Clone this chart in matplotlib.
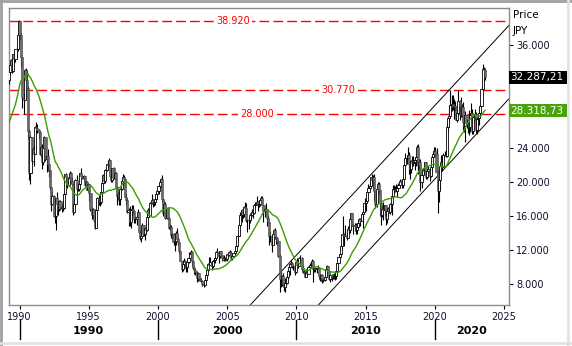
import numpy as np
import matplotlib
matplotlib.use("Agg")
import matplotlib.pyplot as plt
import matplotlib.transforms as mtrans
from matplotlib.patches import Rectangle
import pandas as pd

# ---------------- data (monthly, Nikkei 225, JPY) ----------------
# closes before the first candle (1987-1988), used for the moving average
pre_closes = [20048, 20767, 21567, 23275, 25130, 24176, 24489, 26030, 26010, 21910, 22687, 21564,
              23720, 25450, 26260, 27430, 27420, 27770, 28000, 27370, 27920, 28300, 29580, 30160]

start_year = 1989
closes = [
    31581, 31986, 32839, 33713, 34267, 32949, 34954, 34431, 35637, 35549, 37269, 38916,  # 1989
    37189, 34592, 29980, 29585, 33131, 31940, 31036, 25978, 20984, 25194, 22455, 23849,  # 1990
    23293, 26409, 26292, 26111, 25790, 23291, 24120, 22336, 23916, 25222, 22688, 22984,  # 1991
    22023, 21339, 19346, 17391, 18348, 15951, 15910, 18061, 17399, 16767, 17684, 16925,  # 1992
    17024, 16953, 18591, 20919, 20552, 19591, 20380, 21028, 20106, 19703, 16408, 17417,  # 1993
    20229, 19112, 19112, 19725, 20974, 20644, 20449, 20629, 19564, 19990, 19076, 19723,  # 1994
    18650, 16810, 16140, 16807, 15437, 14517, 16678, 18117, 17913, 17655, 18744, 19868,  # 1995
    20813, 20125, 21407, 22041, 21956, 22531, 20693, 20167, 21556, 20467, 21020, 19361,  # 1996
    18330, 18557, 18003, 19151, 20069, 20605, 20331, 18229, 17888, 16459, 16633, 15259,  # 1997
    16628, 16832, 16527, 15641, 15671, 15830, 16379, 14108, 13406, 13564, 14883, 13842,  # 1998
    14499, 14368, 15837, 16701, 16112, 17530, 17862, 17437, 17605, 17943, 18558, 18934,  # 1999
    19540, 19960, 20337, 17973, 16332, 17411, 15727, 16861, 15747, 14539, 14649, 13785,  # 2000
    13843, 12883, 12999, 13934, 13262, 12969, 11860, 10713, 9775, 10367, 10697, 10543,   # 2001
    9997, 10588, 11025, 11493, 11764, 10622, 9878, 9620, 9383, 8640, 9216, 8579,         # 2002
    8340, 8363, 7973, 7831, 8425, 9083, 9563, 10344, 10219, 10560, 10101, 10677,         # 2003
    10784, 11042, 11715, 11762, 11237, 11859, 11326, 11082, 10824, 10771, 10899, 11489,  # 2004
    11388, 11741, 11668, 11009, 11277, 11584, 11900, 12414, 13574, 13607, 14872, 16111,  # 2005
    16650, 16206, 17060, 16906, 15467, 15505, 15457, 16141, 16128, 16399, 16274, 17226,  # 2006
    17383, 17604, 17288, 17400, 17876, 18138, 17249, 16570, 16786, 16738, 15681, 15307,  # 2007
    13592, 13603, 12526, 13850, 14339, 13481, 13377, 13073, 11260, 8577, 8512, 8860,     # 2008
    7994, 7568, 8110, 8828, 9523, 9958, 10357, 10493, 10133, 10034, 9346, 10546,         # 2009
    10198, 10126, 11090, 11057, 9769, 9383, 9537, 8824, 9369, 9202, 9937, 10229,         # 2010
    10238, 10624, 9755, 9850, 9694, 9816, 9833, 8955, 8700, 8988, 8435, 8455,            # 2011
    8803, 9723, 10084, 9521, 8543, 9007, 8695, 8840, 8870, 8928, 9446, 10395,            # 2012
    11139, 11559, 12398, 13861, 13775, 13677, 13668, 13389, 14456, 14328, 15662, 16291,  # 2013
    14915, 14841, 14828, 14304, 14632, 15162, 15621, 15425, 16174, 16414, 17460, 17451,  # 2014
    17674, 18798, 19207, 19520, 20563, 20236, 20585, 18890, 17388, 19083, 19747, 19034,  # 2015
    17518, 16027, 16759, 16666, 17235, 15576, 16569, 16887, 16450, 17425, 18308, 19114,  # 2016
    19041, 19119, 18909, 19197, 19651, 20033, 19925, 19646, 20356, 22012, 22724, 22765,  # 2017
    23098, 22068, 21454, 22468, 22202, 22305, 22554, 22865, 24120, 21920, 22351, 20015,  # 2018
    20773, 21385, 21206, 22259, 20601, 21276, 21522, 20704, 21756, 22927, 23294, 23657,  # 2019
    23205, 21143, 18917, 20194, 21878, 22288, 21710, 23140, 23185, 22977, 26434, 27444,  # 2020
    27663, 28966, 29179, 28813, 28860, 28792, 27284, 28090, 29453, 28893, 27822, 28792,  # 2021
    27002, 26527, 27821, 26848, 27280, 26393, 27802, 28092, 25937, 27587, 27969, 26095,  # 2022
    27327, 27446, 28041, 28856, 30888, 33189, 33172, 32287.21,                           # 2023
]
highs = [
    31600, 32460, 32840, 33720, 34440, 34270, 34980, 35000, 35640, 35770, 37270, 38957,
    38713, 37480, 34600, 30400, 33200, 33300, 33170, 31200, 26200, 25500, 25300, 24100,
    24200, 26500, 27000, 26800, 26200, 25900, 24300, 24400, 24000, 25400, 25200, 23000,
    23800, 22000, 21400, 19400, 18900, 18400, 16400, 18100, 18800, 17700, 17900, 17900,
    17400, 17800, 18700, 20950, 21000, 20700, 20500, 21281, 21100, 20600, 19700, 17800,
    20300, 20800, 19700, 19800, 21000, 21552, 20800, 20800, 20700, 20200, 20100, 19800,
    19700, 18700, 17000, 16900, 16800, 15500, 16700, 18200, 18400, 18200, 18800, 20011,
    20900, 20800, 21500, 22100, 22400, 22750, 22600, 21200, 21600, 21700, 21300, 21100,
    19500, 18900, 18900, 19200, 20300, 20900, 20800, 20400, 18700, 18100, 16900, 17100,
    16800, 17300, 17200, 16700, 16000, 16000, 16800, 16400, 14300, 13900, 15200, 14900,
    14600, 14600, 16400, 16900, 16900, 17600, 18600, 18000, 17800, 18100, 18800, 19000,
    19700, 20200, 20400, 20833, 18000, 17700, 17600, 16900, 16900, 15900, 15000, 14900,
    14100, 14000, 13200, 14200, 14529, 13500, 12900, 11900, 10700, 10800, 11000, 10800,
    10600, 10600, 11700, 11700, 11980, 11800, 10700, 10100, 9900, 9500, 9300, 9200,
    8800, 8700, 8500, 8100, 8500, 9200, 10000, 10400, 11160, 11200, 10700, 10800,
    11000, 11100, 11800, 12200, 11700, 11900, 11900, 11300, 11300, 11400, 11200, 11500,
    11600, 11800, 11980, 11800, 11300, 11600, 11900, 12500, 13600, 13700, 14900, 16400,
    16800, 16700, 17100, 17560, 17500, 15600, 15700, 16300, 16400, 16800, 16500, 17300,
    17600, 18300, 17700, 17800, 17900, 18300, 18262, 17300, 16900, 17500, 16700, 16100,
    15200, 14200, 13700, 13900, 14400, 14600, 13600, 13500, 13100, 11500, 9500, 9000,
    9300, 8000, 8700, 9000, 9600, 10200, 10400, 10800, 10600, 10300, 10100, 10700,
    10980, 10400, 11100, 11400, 11200, 10200, 9800, 9600, 9700, 9700, 10100, 10400,
    10600, 10900, 10800, 9900, 10000, 9900, 10200, 10000, 9100, 9100, 9100, 8700,
    8900, 9800, 10255, 10100, 9600, 9100, 9100, 9200, 9300, 9200, 9500, 10400,
    11200, 11500, 12650, 13900, 15943, 14000, 14900, 14100, 14800, 14900, 15700, 16320,
    16200, 15100, 15200, 15200, 14700, 15400, 15700, 15700, 16300, 16500, 17500, 18030,
    17900, 18800, 19780, 20100, 20600, 20952, 20800, 20900, 18800, 19100, 20000, 20000,
    18900, 17900, 17300, 17600, 17300, 17000, 16900, 17000, 17100, 17500, 18300, 19600,
    19600, 19500, 19700, 19300, 19800, 20300, 20200, 20100, 20500, 22100, 23382, 23000,
    24129, 23500, 22500, 22500, 23050, 23000, 22900, 23000, 24300, 24448, 22700, 22700,
    20900, 21600, 21800, 22300, 22300, 21300, 21800, 21500, 22100, 23000, 23600, 24100,
    24115, 23900, 21400, 20400, 21900, 23185, 23000, 23400, 23600, 23700, 26900, 27600,
    28979, 30714, 30200, 30200, 29700, 29500, 28900, 28200, 30795, 29600, 29900, 29100,
    29400, 27800, 28300, 28000, 27300, 28400, 27900, 29222, 28500, 27600, 28500, 28200,
    27500, 27700, 28700, 29000, 31100, 33772, 33500, 33300,
]
lows = [
    29960, 31200, 31510, 32500, 33550, 32790, 32860, 33900, 34100, 34620, 35400, 37300,
    36680, 33320, 28600, 28000, 29600, 31300, 30900, 25000, 20220, 19781, 22100, 22500,
    21800, 23200, 25600, 25700, 25000, 23100, 22900, 21500, 21900, 23700, 22400, 21100,
    21200, 20500, 19000, 16600, 17200, 15800, 15100, 14309, 17200, 16100, 16500, 16700,
    16400, 16500, 16800, 18500, 20200, 19300, 19500, 20300, 19800, 19600, 16078, 16300,
    17400, 18900, 18900, 18900, 19700, 20500, 20300, 20100, 19500, 19400, 19000, 18900,
    17700, 16600, 15600, 15600, 15300, 14485, 14600, 16500, 17300, 17100, 17400, 18700,
    19700, 19800, 19800, 21200, 21600, 21800, 20400, 20000, 20000, 20300, 20300, 19100,
    17300, 17800, 17300, 17300, 19000, 20000, 19700, 18200, 17200, 16300, 14775, 14800,
    14500, 16200, 16200, 15200, 15100, 14900, 15800, 14000, 13100, 12879, 13600, 13600,
    13200, 13800, 14200, 15800, 15900, 16100, 17400, 17000, 17100, 17200, 17900, 18000,
    18600, 19200, 19300, 17600, 16000, 16300, 15600, 15600, 15600, 14400, 14300, 13400,
    13200, 12600, 11819, 12600, 13100, 12500, 11500, 10700, 9382, 9500, 10200, 9900,
    9400, 9420, 10500, 10900, 11300, 10100, 9700, 9100, 9000, 8200, 8300, 8500,
    8300, 8200, 7700, 7607, 7800, 8400, 9100, 9500, 10100, 10200, 9600, 9900,
    10400, 10400, 10800, 11600, 10500, 11000, 11200, 10700, 10800, 10700, 10700, 10700,
    11200, 11300, 11600, 10800, 10800, 11200, 11500, 11800, 12300, 13000, 13700, 14800,
    15300, 15700, 15800, 16800, 15300, 14045, 14400, 15100, 15600, 16000, 15700, 16200,
    16900, 17300, 16500, 17000, 17100, 17700, 17200, 15273, 15800, 16500, 14800, 15100,
    12573, 12900, 11692, 12500, 13600, 13300, 12700, 12500, 11100, 6994, 7600, 7800,
    7800, 7200, 7054, 8000, 8500, 9500, 9000, 10100, 9900, 9600, 9000, 9300,
    10100, 9800, 10200, 10800, 9500, 9300, 9100, 8800, 8800, 9200, 9100, 9900,
    10100, 10300, 8227, 9400, 9400, 9300, 9800, 8600, 8300, 8300, 8100, 8200,
    8300, 8800, 9800, 9400, 8500, 8238, 8300, 8600, 8600, 8500, 8600, 9400,
    10400, 10900, 11400, 12000, 13500, 12415, 13600, 13100, 13400, 13800, 14000, 15300,
    14800, 13900, 14200, 13900, 13900, 14600, 15100, 14800, 15400, 14529, 16600, 16700,
    16600, 17600, 18700, 19000, 19500, 20000, 19100, 17700, 16900, 17000, 19000, 18500,
    16000, 14865, 15900, 15500, 16000, 14864, 15200, 16000, 16300, 16200, 16100, 18300,
    18700, 18800, 18900, 18200, 19200, 19400, 19800, 19200, 19200, 20400, 21800, 22100,
    22700, 20900, 20300, 21000, 21900, 21800, 21400, 21800, 22300, 20900, 21000, 18948,
    19241, 20300, 20900, 21300, 20300, 20300, 21000, 20100, 20600, 21300, 22900, 23000,
    22900, 20900, 16358, 17600, 19000, 21500, 21300, 21700, 23000, 22900, 22900, 26000,
    27000, 27900, 28300, 28400, 27400, 28300, 27200, 26954, 28000, 27300, 27600, 27600,
    26044, 25800, 24681, 26300, 25700, 25500, 25800, 27600, 25600, 25600, 27200, 25700,
    25600, 27100, 26600, 27500, 28900, 31200, 31800, 31900,
]

ma_window = 24                     # moving average length (months)
last_price = 32287.21              # value shown in the black price box
last_ma = 28318.73                 # value shown in the green average box
levels = [38920, 30770, 28000]     # horizontal resistance / support levels
level_texts = ["38.920", "30.770", "28.000"]
# trend channel: two anchor points (year, price) per line
channel_upper = [(2006.67, 5510), (2025.36, 38360)]
channel_lower = [(2011.59, 5510), (2025.36, 29740)]
price_ticks = [8000, 12000, 16000, 20000, 24000, 28000, 32000, 36000]
hidden_ticks = [28000, 32000]      # covered by the value boxes
year_ticks = [1990, 1995, 2000, 2005, 2010, 2015, 2020, 2025]
decades = [1990, 2000, 2010, 2020]

# ---------------- derived ----------------
n = len(closes)
t = start_year + (np.arange(n) + 0.5) / 12.0
c = np.array(closes, dtype=float)
o = np.concatenate([[pre_closes[-1]], c[:-1]])
h = np.array(highs, dtype=float)
l = np.array(lows, dtype=float)
allc = pd.Series(list(pre_closes) + list(closes), dtype=float)
ma = allc.rolling(ma_window).mean().to_numpy()[len(pre_closes):]

# ---------------- figure ----------------
W, H = 572, 346
plt.rcParams['font.family'] = ['DejaVu Sans']
fig = plt.figure(figsize=(W / 100, H / 100), dpi=100)
ax = fig.add_axes([9 / W, 1 - 305 / H, 500 / W, 297 / H])
ax.set_xlim(1989.24, 2025.36)
ax.set_ylim(5510, 40400)

# level lines
label_x = [2005.43, 2013.04, 2007.17]
for lv, txt, lx in zip(levels, level_texts, label_x):
    ax.axhline(lv, color='#ff0000', lw=1.0, dashes=(7, 3), zorder=1)
    ax.text(lx, lv, txt, color='#ff0000', fontsize=7, ha='center', va='center',
            bbox=dict(boxstyle='square,pad=0.25', fc='white', ec='none'), zorder=2)

# channel lines
for (x0, y0), (x1, y1) in (channel_upper, channel_lower):
    ax.plot([x0, x1], [y0, y1], color='black', lw=0.7, zorder=2)

# candles
w = 0.15
ax.vlines(t, l, h, color='black', lw=0.8, zorder=3)
up = c >= o
body_lo = np.minimum(o, c)
body_h = np.maximum(np.abs(c - o), 30)
for i in range(n):
    if up[i]:
        ax.bar(t[i], body_h[i], bottom=body_lo[i], width=w, color='white',
               edgecolor='black', linewidth=0.6, zorder=4)
    else:
        ax.bar(t[i], body_h[i], bottom=body_lo[i], width=w, color='#6a6a6a',
               edgecolor='#4a4a4a', linewidth=0.4, zorder=4)

# moving average
ax.plot(t, ma, color='#3c9e00', lw=1.0, zorder=5)

# axes styling
for s in ax.spines.values():
    s.set_color('#8c8c8c')
    s.set_linewidth(1.0)
ax.yaxis.tick_right()
ax.set_yticks(price_ticks)
ax.set_yticklabels(["" if v in hidden_ticks else f"{v:,.0f}".replace(',', '.')
                    for v in price_ticks])
ax.tick_params(axis='y', direction='out', length=3, width=0.8, pad=2, labelsize=7,
               color='black', labelcolor='#101030')
ax.set_xticks(year_ticks)
ax.set_xticklabels([str(y) for y in year_ticks])
ax.tick_params(axis='x', direction='out', length=3, width=0.8, pad=2, labelsize=7,
               color='black', labelcolor='#101030')

# value boxes on the right axis
blend_y = mtrans.blended_transform_factory(ax.transAxes, ax.transData)
px = (40400 - 5510) / 297.0
box_vals = [last_price, last_ma]
box_cols = ['black', '#48a40a']
for v, col in zip(box_vals, box_cols):
    ax.add_patch(Rectangle((1.0, v - 6.5 * px), 58 / 500, 13 * px, transform=blend_y,
                           facecolor=col, edgecolor='none', clip_on=False, zorder=10))
    s = f"{v:,.2f}".replace(',', 'X').replace('.', ',').replace('X', '.')
    ax.text(1.003, v, s, transform=blend_y, color='white', fontsize=7.5,
            va='center', ha='left', zorder=11, clip_on=False)

fig.text(513 / W, 1 - 15 / H, 'Price', fontsize=7.5, va='center', ha='left')
fig.text(513 / W, 1 - 31 / H, 'JPY', fontsize=7.5, va='center', ha='left')

# decade markers under the axis
blend_x = mtrans.blended_transform_factory(ax.transData, fig.transFigure)
for d in decades:
    ax.plot([d, d], [1 - 320 / H, 1 - 339 / H], color='black', lw=1.0,
            transform=blend_x, clip_on=False)
    xmid = (d + min(d + 10, 2025.36)) / 2
    ax.text(xmid, 1 - 331 / H, str(d), transform=blend_x, fontsize=8,
            fontweight='bold', ha='center', va='center', clip_on=False)

# outer panel border
fig.add_artist(plt.Line2D([1 / W, 1 / W], [0, 1], color='#a0a0a0', lw=2.0))
fig.add_artist(plt.Line2D([0, 1], [1 - 1 / H, 1 - 1 / H], color='#a0a0a0', lw=2.0))
fig.add_artist(plt.Line2D([568 / W, 568 / W], [0, 1], color='#e2e2e2', lw=2.0))
fig.add_artist(plt.Line2D([0, 1], [1 - 343 / H, 1 - 343 / H], color='#e2e2e2', lw=2.0))

fig.savefig('out.png', dpi=100, facecolor='white')
